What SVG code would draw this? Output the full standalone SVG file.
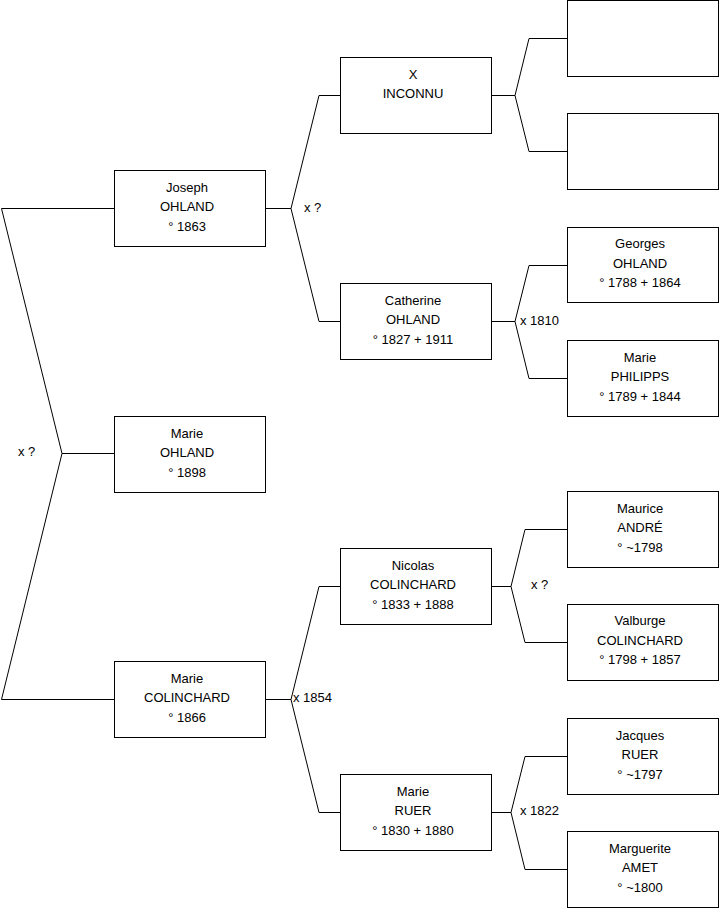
<svg xmlns="http://www.w3.org/2000/svg" width="719" height="908" viewBox="0 0 719 908">
<style>
.box{fill:#fff;stroke:#000;stroke-width:1}
.t{font-family:"Liberation Sans",Arial,sans-serif;font-size:13px;fill:#000;text-anchor:middle}
.l{font-family:"Liberation Sans",Arial,sans-serif;font-size:13px;fill:#000}
.c{fill:none;stroke:#000;stroke-width:1}
</style>
<rect width="719" height="908" fill="#fff"/>
<g id="connectors">
<path class="c" d="M114,208.5 H1.5 L62,453.5 L1.5,699.5 H114 M62,453.5 H114"/>
<path class="c" d="M265,208.5 H291 L319,95.5 H340 M291,208.5 L319,321.5 H340"/>
<path class="c" d="M265,699.5 H291 L319,586.5 H340 M291,699.5 L319,812.5 H340"/>
<path class="c" d="M491,95.5 H515 L529,38.5 H567 M515,95.5 L529,151.5 H567"/>
<path class="c" d="M491,321.5 H515 L529,265.5 H567 M515,321.5 L529,378.5 H567"/>
<path class="c" d="M491,586.5 H511 L525,529.5 H567 M511,586.5 L525,642.5 H567"/>
<path class="c" d="M491,812.5 H511 L525,756.5 H567 M511,812.5 L525,869.5 H567"/>
<text class="l" x="18" y="456">x ?</text>
<text class="l" x="304" y="212">x ?</text>
<text class="l" x="520" y="325">x 1810</text>
<text class="l" x="293" y="702">x 1854</text>
<text class="l" x="531" y="589">x ?</text>
<text class="l" x="520" y="815">x 1822</text>
</g>
<g id="joseph"><rect class="box" x="114.5" y="170.5" width="151" height="76"/><text class="t" x="187" y="191.5">Joseph</text><text class="t" x="187" y="211">OHLAND</text><text class="t" x="187" y="230.5">° 1863</text></g>
<g id="marie-ohland"><rect class="box" x="114.5" y="416.5" width="151" height="76"/><text class="t" x="187" y="437.5">Marie</text><text class="t" x="187" y="457">OHLAND</text><text class="t" x="187" y="476.5">° 1898</text></g>
<g id="marie-colinchard"><rect class="box" x="114.5" y="661.5" width="151" height="76"/><text class="t" x="187" y="682.5">Marie</text><text class="t" x="187" y="702">COLINCHARD</text><text class="t" x="187" y="721.5">° 1866</text></g>
<g id="x-inconnu"><rect class="box" x="340.5" y="57.5" width="151" height="76"/><text class="t" x="413" y="78.5">X</text><text class="t" x="413" y="98">INCONNU</text></g>
<g id="catherine"><rect class="box" x="340.5" y="283.5" width="151" height="76"/><text class="t" x="413" y="304.5">Catherine</text><text class="t" x="413" y="324">OHLAND</text><text class="t" x="413" y="343.5">° 1827 + 1911</text></g>
<g id="nicolas"><rect class="box" x="340.5" y="548.5" width="151" height="76"/><text class="t" x="413" y="569.5">Nicolas</text><text class="t" x="413" y="589">COLINCHARD</text><text class="t" x="413" y="608.5">° 1833 + 1888</text></g>
<g id="marie-ruer"><rect class="box" x="340.5" y="774.5" width="151" height="76"/><text class="t" x="413" y="795.5">Marie</text><text class="t" x="413" y="815">RUER</text><text class="t" x="413" y="834.5">° 1830 + 1880</text></g>
<g id="empty1"><rect class="box" x="567.5" y="0.5" width="151" height="76"/></g>
<g id="empty2"><rect class="box" x="567.5" y="113.5" width="151" height="76"/></g>
<g id="georges"><rect class="box" x="567.5" y="227.5" width="151" height="75"/><text class="t" x="640" y="248">Georges</text><text class="t" x="640" y="267.5">OHLAND</text><text class="t" x="640" y="287">° 1788 + 1864</text></g>
<g id="marie-philipps"><rect class="box" x="567.5" y="340.5" width="151" height="76"/><text class="t" x="640" y="361.5">Marie</text><text class="t" x="640" y="381">PHILIPPS</text><text class="t" x="640" y="400.5">° 1789 + 1844</text></g>
<g id="maurice"><rect class="box" x="567.5" y="491.5" width="151" height="76"/><text class="t" x="640" y="512.5">Maurice</text><text class="t" x="640" y="532">ANDRÉ</text><text class="t" x="640" y="551.5">° ~1798</text></g>
<g id="valburge"><rect class="box" x="567.5" y="604.5" width="151" height="76"/><text class="t" x="640" y="625">Valburge</text><text class="t" x="640" y="644.5">COLINCHARD</text><text class="t" x="640" y="664">° 1798 + 1857</text></g>
<g id="jacques"><rect class="box" x="567.5" y="718.5" width="151" height="76"/><text class="t" x="640" y="739.5">Jacques</text><text class="t" x="640" y="759">RUER</text><text class="t" x="640" y="778.5">° ~1797</text></g>
<g id="marguerite"><rect class="box" x="567.5" y="831.5" width="151" height="76"/><text class="t" x="640" y="852.5">Marguerite</text><text class="t" x="640" y="872">AMET</text><text class="t" x="640" y="891.5">° ~1800</text></g>
</svg>
